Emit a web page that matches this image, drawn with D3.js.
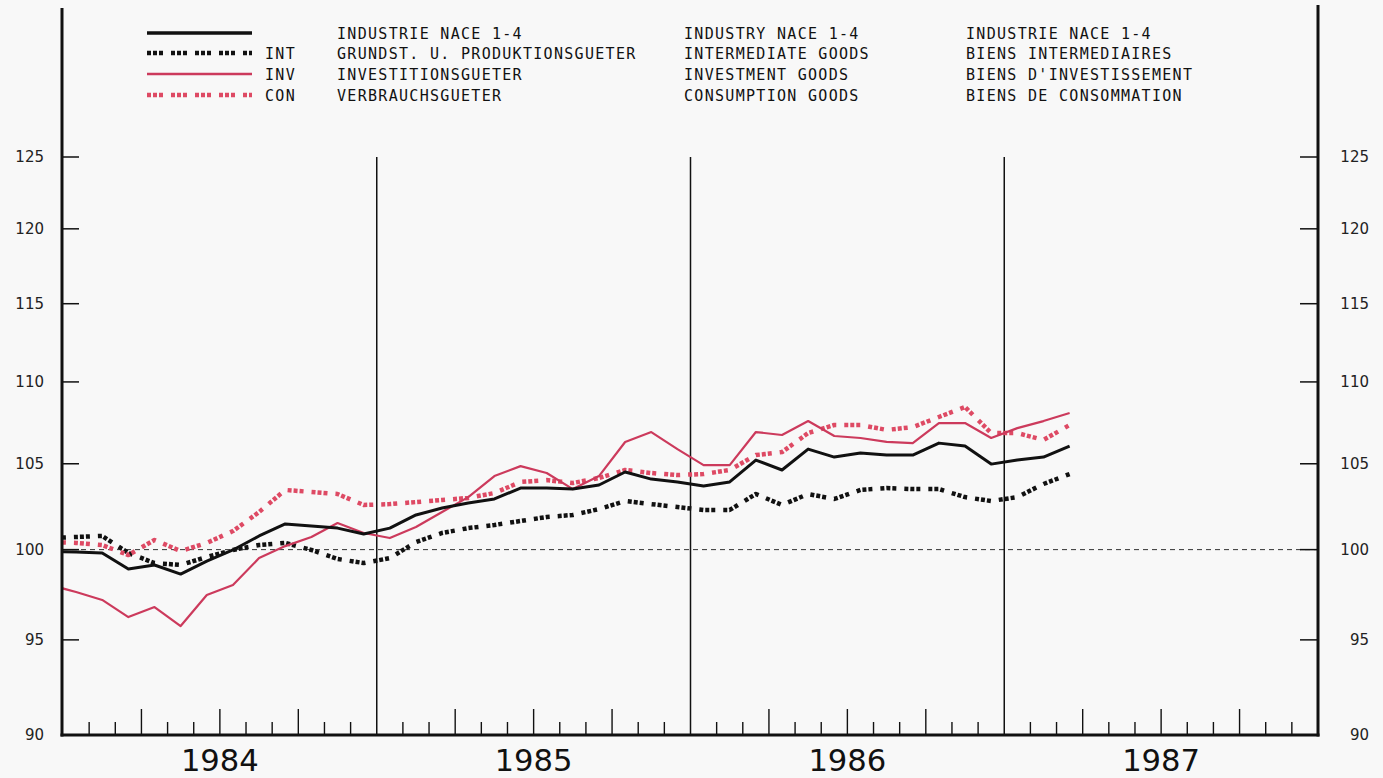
<!DOCTYPE html>
<html>
<head>
<meta charset="utf-8">
<script src="https://cdn.jsdelivr.net/npm/d3@7"></script>
<style>
  html, body { margin: 0; padding: 0; background: #f8f8f8; }
  svg { display: block; }
</style>
</head>
<body>
<svg id="chart" width="1383" height="778"></svg>
<script>
// Monthly indices, Dec 1983 .. Mar 1987 (Dec 1983 only used to run the line into the axis)
const industrie = [99.9,
  99.86, 99.81, 98.90, 99.13, 98.62, 99.35, 99.98, 100.78, 101.47, 101.35, 101.23, 100.89,
  101.23, 101.99, 102.39, 102.68, 102.92, 103.56, 103.56, 103.50, 103.74, 104.51, 104.09, 103.92,
  103.68, 103.92, 105.22, 104.63, 105.88, 105.40, 105.64, 105.52, 105.52, 106.24, 106.06, 104.98,
  105.22, 105.40, 106.06];
const intermediate = [100.66,
  100.72, 100.78, 99.81, 99.24, 99.13, 99.58, 99.98, 100.26, 100.38, 99.98, 99.47, 99.24,
  99.52, 100.43, 100.95, 101.23, 101.41, 101.64, 101.87, 101.99, 102.33, 102.80, 102.62, 102.45,
  102.28, 102.28, 103.21, 102.57, 103.21, 102.92, 103.45, 103.56, 103.50, 103.50, 103.03, 102.80,
  103.03, 103.80, 104.39];
const investment = [98.01,
  97.62, 97.18, 96.24, 96.79, 95.75, 97.45, 98.01, 99.52, 100.20, 100.72, 101.52, 100.95,
  100.66, 101.29, 102.16, 103.03, 104.27, 104.86, 104.45, 103.50, 104.27, 106.31, 106.91, 105.88,
  104.92, 104.92, 106.91, 106.73, 107.58, 106.67, 106.55, 106.31, 106.24, 107.46, 107.46, 106.55,
  107.15, 107.58, 108.07];
const consumption = [100.43,
  100.38, 100.26, 99.69, 100.55, 99.92, 100.38, 101.06, 102.16, 103.45, 103.33, 103.21, 102.57,
  102.62, 102.74, 102.86, 102.98, 103.27, 103.92, 104.03, 103.86, 104.15, 104.63, 104.45, 104.33,
  104.39, 104.63, 105.52, 105.70, 106.85, 107.34, 107.34, 107.04, 107.21, 107.83, 108.44, 106.85,
  106.85, 106.43, 107.34];

const years = ["1984", "1985", "1986", "1987"];
const yTicks = [90, 95, 100, 105, 110, 115, 120, 125];

const codes = ["", "INT", "INV", "CON"];
const labelsDE = ["INDUSTRIE NACE 1-4", "GRUNDST. U. PRODUKTIONSGUETER", "INVESTITIONSGUETER", "VERBRAUCHSGUETER"];
const labelsEN = ["INDUSTRY NACE 1-4", "INTERMEDIATE GOODS", "INVESTMENT GOODS", "CONSUMPTION GOODS"];
const labelsFR = ["INDUSTRIE NACE 1-4", "BIENS INTERMEDIAIRES", "BIENS D'INVESTISSEMENT", "BIENS DE CONSOMMATION"];

const svg = d3.select("#chart");
const L = 63, R = 1318, T = 157, B = 735;

const x = d3.scaleLinear().domain([0, 48]).range([L, R]);
const y = d3.scaleLog().domain([90, 125]).range([B, T]);

const styles = [
  { data: industrie,   color: "#111", width: 3,   dash: null },
  { data: intermediate, color: "#111", width: 4.5, dash: "4,2,4,2,4,8" },
  { data: investment,  color: "#cc3a5c", width: 2.2, dash: null },
  { data: consumption, color: "#de4a64", width: 4.5, dash: "4,2,4,2,4,8" }
];

// clip
svg.append("defs").append("clipPath").attr("id", "clip")
  .append("rect").attr("x", L).attr("y", 0).attr("width", R - L).attr("height", B);

// 100 reference dashed line
svg.append("line").attr("x1", L).attr("x2", R).attr("y1", y(100)).attr("y2", y(100))
  .attr("stroke", "#333").attr("stroke-width", 1).attr("stroke-dasharray", "5,4");

// year separators
svg.selectAll(".sep").data([12, 24, 36]).enter().append("line")
  .attr("x1", d => x(d)).attr("x2", d => x(d)).attr("y1", y(125)).attr("y2", B)
  .attr("stroke", "#111").attr("stroke-width", 1.5);

// month ticks
const months = d3.range(1, 48).filter(m => m % 12 !== 0);
svg.selectAll(".mt").data(months).enter().append("line")
  .attr("x1", d => x(d)).attr("x2", d => x(d))
  .attr("y1", B).attr("y2", d => d % 3 === 0 ? B - 26 : B - 13)
  .attr("stroke", "#111").attr("stroke-width", 1.4);

// y ticks (left and right)
const yt = yTicks.filter(v => v > 90);
svg.selectAll(".ytl").data(yt).enter().append("line")
  .attr("x1", L).attr("x2", L + 16).attr("y1", d => y(d)).attr("y2", d => y(d))
  .attr("stroke", "#111").attr("stroke-width", 1.5);
svg.selectAll(".ytr").data(yt).enter().append("line")
  .attr("x1", R - 18).attr("x2", R).attr("y1", d => y(d)).attr("y2", d => y(d))
  .attr("stroke", "#111").attr("stroke-width", 1.5);

// y labels
const lblFont = "'DejaVu Sans', sans-serif";
svg.selectAll(".yl").data(yTicks).enter().append("text")
  .attr("x", 44).attr("y", d => y(d)).attr("dy", "0.36em")
  .attr("text-anchor", "end").attr("font-family", lblFont).attr("font-size", 15)
  .attr("fill", "#222").text(d => d);
svg.selectAll(".yr").data(yTicks).enter().append("text")
  .attr("x", 1369).attr("y", d => y(d)).attr("dy", "0.36em")
  .attr("text-anchor", "end").attr("font-family", lblFont).attr("font-size", 15)
  .attr("fill", "#222").text(d => d);

// year labels
svg.selectAll(".yr-lbl").data(years).enter().append("text")
  .attr("x", (d, i) => x(i * 12 + 6)).attr("y", 771)
  .attr("text-anchor", "middle")
  .attr("font-family", "'DejaVu Sans', sans-serif")
  .attr("font-size", 30).attr("fill", "#111")
  .attr("textLength", 78).attr("lengthAdjust", "spacingAndGlyphs")
  .text(d => d);

// series lines
const line = d3.line().x((d, i) => x(i - 0.5)).y(d => y(d));
const g = svg.append("g").attr("clip-path", "url(#clip)");
[1, 3, 2, 0].forEach(k => {
  const s = styles[k];
  g.append("path").datum(s.data).attr("d", line)
    .attr("fill", "none").attr("stroke", s.color).attr("stroke-width", s.width)
    .attr("stroke-linejoin", "round")
    .attr("stroke-dasharray", s.dash);
});

// axes frame
svg.append("line").attr("x1", L - 1).attr("x2", L - 1).attr("y1", 8).attr("y2", B + 1.5)
  .attr("stroke", "#111").attr("stroke-width", 3);
svg.append("line").attr("x1", R).attr("x2", R).attr("y1", 5).attr("y2", B + 1.5)
  .attr("stroke", "#111").attr("stroke-width", 3);
svg.append("line").attr("x1", L - 2.5).attr("x2", R + 1.5).attr("y1", B).attr("y2", B)
  .attr("stroke", "#111").attr("stroke-width", 3);

// legend
const legRows = [33, 53, 74, 95];
const legFont = "'DejaVu Sans Mono', monospace";
const leg = svg.append("g");
styles.forEach((s, i) => {
  leg.append("line").attr("x1", 147).attr("x2", 252).attr("y1", legRows[i]).attr("y2", legRows[i])
    .attr("stroke", s.color).attr("stroke-width", i === 0 ? 3.5 : (s.dash ? 4.5 : 2.5))
    .attr("stroke-dasharray", s.dash ? "4,2,4,2,4,8" : null);
  const t = (xx, txt) => leg.append("text").attr("x", xx).attr("y", legRows[i]).attr("dy", "0.38em")
    .attr("font-family", legFont).attr("font-size", 15).attr("letter-spacing", "1.3")
    .attr("fill", "#111").text(txt);
  t(265, codes[i]);
  t(337, labelsDE[i]);
  t(684, labelsEN[i]);
  t(966, labelsFR[i]);
});
</script>
</body>
</html>
